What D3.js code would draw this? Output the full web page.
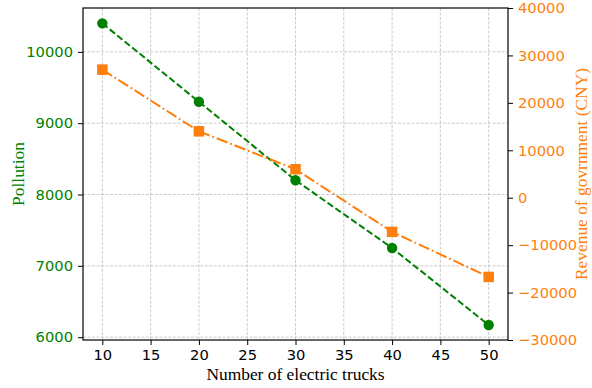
<!DOCTYPE html>
<html>
<head>
<meta charset="utf-8">
<script src="https://cdn.jsdelivr.net/npm/d3@7"></script>
<style>
  body { margin: 0; background: #fff; }
  svg { display: block; }
  .tick text { font-family: "DejaVu Sans", sans-serif; font-size: 14.7px; }
  .lab { font-family: "Liberation Serif", "Times New Roman", serif; font-size: 17.4px; }
</style>
</head>
<body>
<script>
var width = 592,
    height = 388;

// valeurs
const trucks = [10, 20, 30, 40, 50];
const pollution = [10400, 9300, 8200, 7250, 6170];
const revenue = [27000, 14000, 6000, -7200, -16700];
const xTicks = [10, 15, 20, 25, 30, 35, 40, 45, 50];
const leftTicks = [6000, 7000, 8000, 9000, 10000];
const rightTicks = [-30000, -20000, -10000, 0, 10000, 20000, 30000, 40000];

var margin = { left: 83, right: 84, top: 8, bottom: 48 };
var x0 = margin.left, x1 = width - margin.right,
    y0 = margin.top, y1 = height - margin.bottom;

var green = "#008000", orange = "#ff7f0e";
var tk = 5, pad = 5;

var svg = d3.select("body").append("svg")
    .attr("width", width)
    .attr("height", height);

var x = d3.scaleLinear().domain([8, 52]).range([x0, x1]);
var yL = d3.scaleLinear().domain([5960, 10615]).range([y1, y0]);
var yR = d3.scaleLinear().domain([-30000, 40000]).range([y1, y0]);

// grille
var grid = svg.append("g").attr("stroke", "#b0b0b0").attr("stroke-width", 0.8)
    .attr("stroke-dasharray", "3,1.5").attr("opacity", 0.8);
grid.selectAll(".gx").data(xTicks).join("line")
    .attr("x1", d => x(d)).attr("x2", d => x(d))
    .attr("y1", y0).attr("y2", y1);
grid.selectAll(".gy").data(leftTicks).join("line")
    .attr("x1", x0).attr("x2", x1)
    .attr("y1", d => yL(d)).attr("y2", d => yL(d));

// axes
var fmt = d => d < 0 ? "\u2212" + Math.abs(d) : String(d);

var gx = svg.append("g").attr("transform", `translate(0,${y1})`)
    .call(d3.axisBottom(x).tickValues(xTicks).tickSize(tk).tickPadding(pad).tickSizeOuter(0));
gx.selectAll("text").attr("fill", "#000");

var gl = svg.append("g").attr("transform", `translate(${x0},0)`)
    .call(d3.axisLeft(yL).tickValues(leftTicks).tickFormat(fmt).tickSize(tk).tickPadding(pad).tickSizeOuter(0));
gl.selectAll("text").attr("fill", green);

var gr = svg.append("g").attr("transform", `translate(${x1},0)`)
    .call(d3.axisRight(yR).tickValues(rightTicks).tickFormat(fmt).tickSize(tk).tickPadding(pad).tickSizeOuter(0));
gr.selectAll("text").attr("fill", orange);

svg.selectAll(".domain").remove();
svg.selectAll(".tick line").attr("stroke", "#000").attr("stroke-width", 1);

// cadre
svg.append("rect")
    .attr("x", x0).attr("y", y0)
    .attr("width", x1 - x0).attr("height", y1 - y0)
    .attr("fill", "none").attr("stroke", "#000").attr("stroke-width", 1.2);

// courbes
var lineL = d3.line().x((d, i) => x(trucks[i])).y(d => yL(d));
var lineR = d3.line().x((d, i) => x(trucks[i])).y(d => yR(d));

svg.append("path").datum(pollution)
    .attr("d", lineL).attr("fill", "none")
    .attr("stroke", green).attr("stroke-width", 2)
    .attr("stroke-dasharray", "6.7,2.9");

svg.append("path").datum(revenue)
    .attr("d", lineR).attr("fill", "none")
    .attr("stroke", orange).attr("stroke-width", 2)
    .attr("stroke-dasharray", "11.5,2.9,1.8,2.9");

svg.selectAll(".pt").data(pollution).join("circle")
    .attr("cx", (d, i) => x(trucks[i])).attr("cy", d => yL(d))
    .attr("r", 5.2).attr("fill", green);

var s = 10.5;
svg.selectAll(".sq").data(revenue).join("rect")
    .attr("x", (d, i) => x(trucks[i]) - s / 2).attr("y", d => yR(d) - s / 2)
    .attr("width", s).attr("height", s).attr("fill", orange);

// titres des axes
svg.append("text").attr("class", "lab")
    .attr("x", (x0 + x1) / 2).attr("y", 380)
    .attr("text-anchor", "middle").attr("fill", "#000")
    .text("Number of electric trucks");

svg.append("text").attr("class", "lab")
    .attr("transform", `translate(24,${(y0 + y1) / 2}) rotate(-90)`)
    .attr("text-anchor", "middle").attr("fill", green)
    .text("Pollution");

svg.append("text").attr("class", "lab")
    .attr("transform", `translate(587,${(y0 + y1) / 2}) rotate(-90)`)
    .attr("text-anchor", "middle").attr("fill", orange)
    .text("Revenue of govrnment (CNY)");
</script>
</body>
</html>
